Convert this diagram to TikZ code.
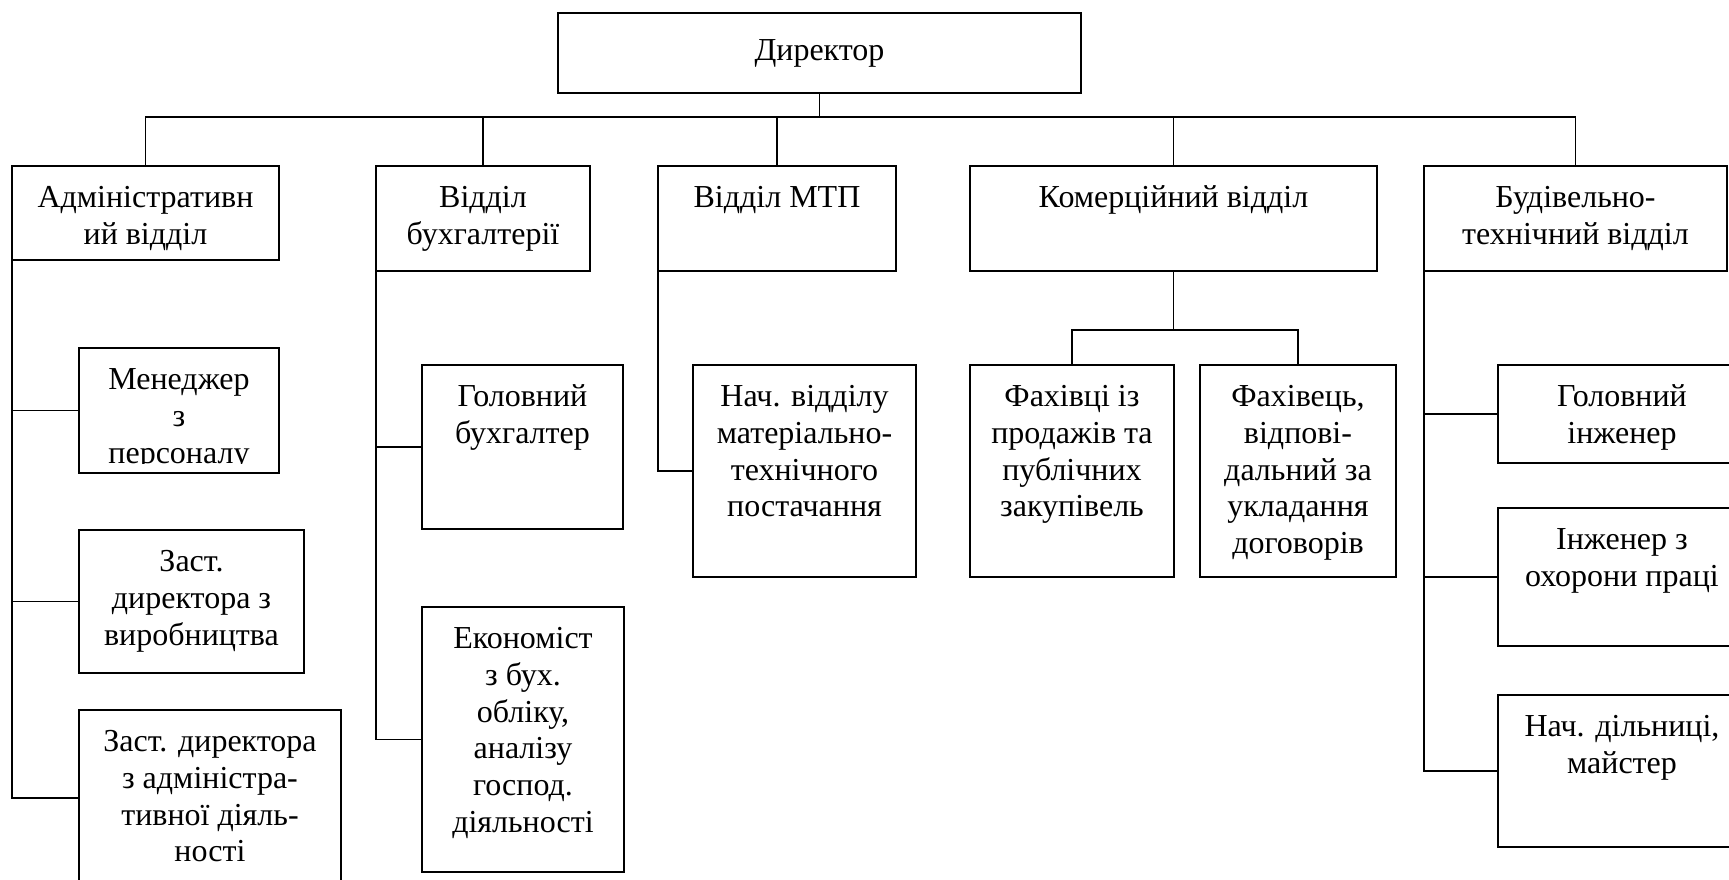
\documentclass[tikz,border=0pt]{standalone}
\usepackage{fontspec}
\setmainfont{Liberation Serif}
\usepackage{tikz}
\usetikzlibrary{calc}
\newlength{\pxu}
\setlength{\pxu}{0.4pt}

\begin{document}
\begin{tikzpicture}[x=0.4pt,y=-0.4pt]
      \newcommand{\cardtext}[4][16.6pt]{\parbox[t][#3\pxu][t]{#2\pxu}{\centering\fontsize{12.8}{14.7}\selectfont\rule{0pt}{#1}#4}}
      \tikzstyle{edge} = [draw=black, line width=0.65pt]
      \tikzstyle{unit}=[
        draw=black,
        rectangle,
        anchor=north west,
        inner sep=0pt,
        outer sep=0pt,
        line width=0.65pt,
      ]
      \useasboundingbox (0,0) rectangle (1729,880);

      % top level
      \node[unit] (dir) at (558,13) {\cardtext[18.8pt]{523}{80}{Директор}};

      % departments
      \node[unit, line width=1pt] (adm) at (12,166) {\cardtext{267}{94}{Адміністративн\\ий відділ}};
      \node[unit] (buh) at (376,166) {\cardtext{214}{105}{Відділ\\бухгалтерії}};
      \node[unit] (mtp) at (658,166) {\cardtext{238}{105}{Відділ МТП}};
      \node[unit] (kom) at (970,166) {\cardtext{407}{105}{Комерційний відділ}};
      \node[unit] (bud) at (1424,166) {\cardtext{303}{105}{Будівельно-\\технічний відділ}};

      % staff
      \node[unit] (mgr) at (79,348) {\cardtext{200}{125}{Менеджер\\з\\персоналу}};
      \node[unit] (zvyr) at (79,530) {\cardtext{225}{143}{Заст.\\директора з\\виробництва}};
      \node[unit] (zadm) at (79,710) {\cardtext{262}{176}{Заст. директора\\з адміністра-\\тивної діяль-\\ності}};
      \node[unit] (gbuh) at (422,365) {\cardtext{201}{164}{Головний\\бухгалтер}};
      \node[unit] (econ) at (422,607) {\cardtext{202}{265}{Економіст\\з бух.\\обліку,\\аналізу\\господ.\\діяльності}};
      \node[unit] (mts) at (693,365) {\cardtext{223}{212}{Нач. відділу\\матеріально-\\технічного\\постачання}};
      \node[unit] (fah1) at (970,365) {\cardtext{204}{212}{Фахівці із\\продажів та\\публічних\\закупівель}};
      \node[unit] (fah2) at (1200,365) {\cardtext{196}{212}{Фахівець,\\відпові-\\дальний за\\укладання\\договорів}};
      \node[unit] (ginzh) at (1498,365) {\cardtext{248}{98}{Головний\\інженер}};
      \node[unit] (iokh) at (1498,508) {\cardtext{248}{138}{Інженер з\\охорони праці}};
      \node[unit] (ndil) at (1498,695) {\cardtext{248}{152}{Нач. дільниці,\\майстер}};

      % cut-off last line
      \fill[white] (80,463.5) rectangle (278.2,472.2);

      % bus
      \draw[edge] (dir.south) -- ++(0,24) -| (adm.north);
      \draw[edge] (dir.south) -- ++(0,24) -| (buh.north);
      \draw[edge] (dir.south) -- ++(0,24) -| (mtp.north);
      \draw[edge] (dir.south) -- ++(0,24) -| (kom.north);
      \draw[edge] (dir.south) -- ++(0,24) -| (bud.north);

      \draw[edge] (kom.south) -- ++(0,59) -| (fah1.north);
      \draw[edge] (kom.south) -- ++(0,59) -| (fah2.north);

      % spines
      \draw[edge] (adm.south west) |- (mgr.west);
      \draw[edge] (adm.south west) |- (zvyr.west);
      \draw[edge] (adm.south west) |- (zadm.west);
      \draw[edge] (buh.south west) |- (gbuh.west);
      \draw[edge] (buh.south west) |- (econ.west);
      \draw[edge] (mtp.south west) |- (mts.west);
      \draw[edge] (bud.south west) |- (ginzh.west);
      \draw[edge] (bud.south west) |- (iokh.west);
      \draw[edge] (bud.south west) |- (ndil.west);
    \end{tikzpicture}
\end{document}
